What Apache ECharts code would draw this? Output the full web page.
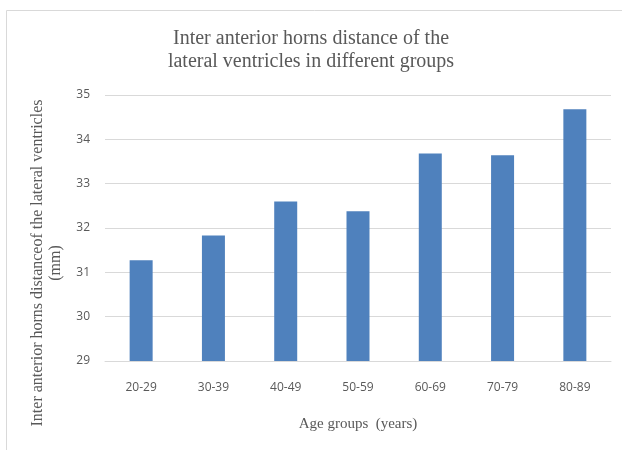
<!DOCTYPE html>
<html>
<head>
<meta charset="utf-8">
<script src="https://cdn.jsdelivr.net/npm/echarts@6/dist/echarts.min.js"></script>
<style>
  html, body { margin: 0; padding: 0; background: #fff; }
  #chart { width: 622px; height: 450px; }
</style>
</head>
<body>
<div id="chart"></div>
<script>
const ageGroups = ['20-29', '30-39', '40-49', '50-59', '60-69', '70-79', '80-89'];
const hornDistance = [31.27, 31.83, 32.60, 32.38, 33.68, 33.64, 34.68];
const yTicks = { min: 29, max: 35, interval: 1 };

const chart = echarts.init(document.getElementById('chart'));
const serif = '"Liberation Serif", "DejaVu Serif", serif';
const textColor = '#595959';

chart.setOption({
  animation: false,
  graphic: [
    {
      type: 'rect',
      shape: { x: 6.5, y: 10.5, width: 640, height: 460 },
      style: { fill: 'none', stroke: '#d9d9d9', lineWidth: 1 },
    },
  ],
  title: {
    text: 'Inter anterior horns distance of the\nlateral ventricles in different groups',
    left: 'center',
    top: 22,
    textStyle: {
      fontFamily: serif,
      fontWeight: 'normal',
      fontSize: 20,
      lineHeight: 23,
      color: textColor,
    },
  },
  grid: { left: 105, right: 11, top: 95, bottom: 89 },
  xAxis: {
    type: 'category',
    data: ageGroups,
    name: 'Age groups  (years)',
    nameLocation: 'middle',
    nameGap: 56,
    nameTextStyle: { fontFamily: serif, fontSize: 15, color: textColor },
    axisLine: { lineStyle: { color: '#d9d9d9' } },
    axisTick: { show: false },
    axisLabel: { margin: 21, fontSize: 12, color: textColor, fontFamily: '"Open Sans", sans-serif' },
  },
  yAxis: {
    type: 'value',
    min: yTicks.min,
    max: yTicks.max,
    interval: yTicks.interval,
    name: 'Inter anterior horns distanceof the lateral ventricles\n(mm)',
    nameLocation: 'middle',
    nameGap: 40,
    nameTextStyle: {
      fontFamily: serif,
      fontSize: 16,
      lineHeight: 18,
      color: textColor,
      padding: [0, 70, 0, 0],
    },
    axisLine: { show: false },
    axisTick: { show: false },
    axisLabel: { margin: 15, fontSize: 12, color: textColor, fontFamily: '"Open Sans", sans-serif' },
    splitLine: { lineStyle: { color: '#d9d9d9' } },
  },
  series: [
    {
      type: 'bar',
      data: hornDistance,
      barWidth: 23,
      itemStyle: { color: '#4f81bd' },
    },
  ],
});
</script>
</body>
</html>
